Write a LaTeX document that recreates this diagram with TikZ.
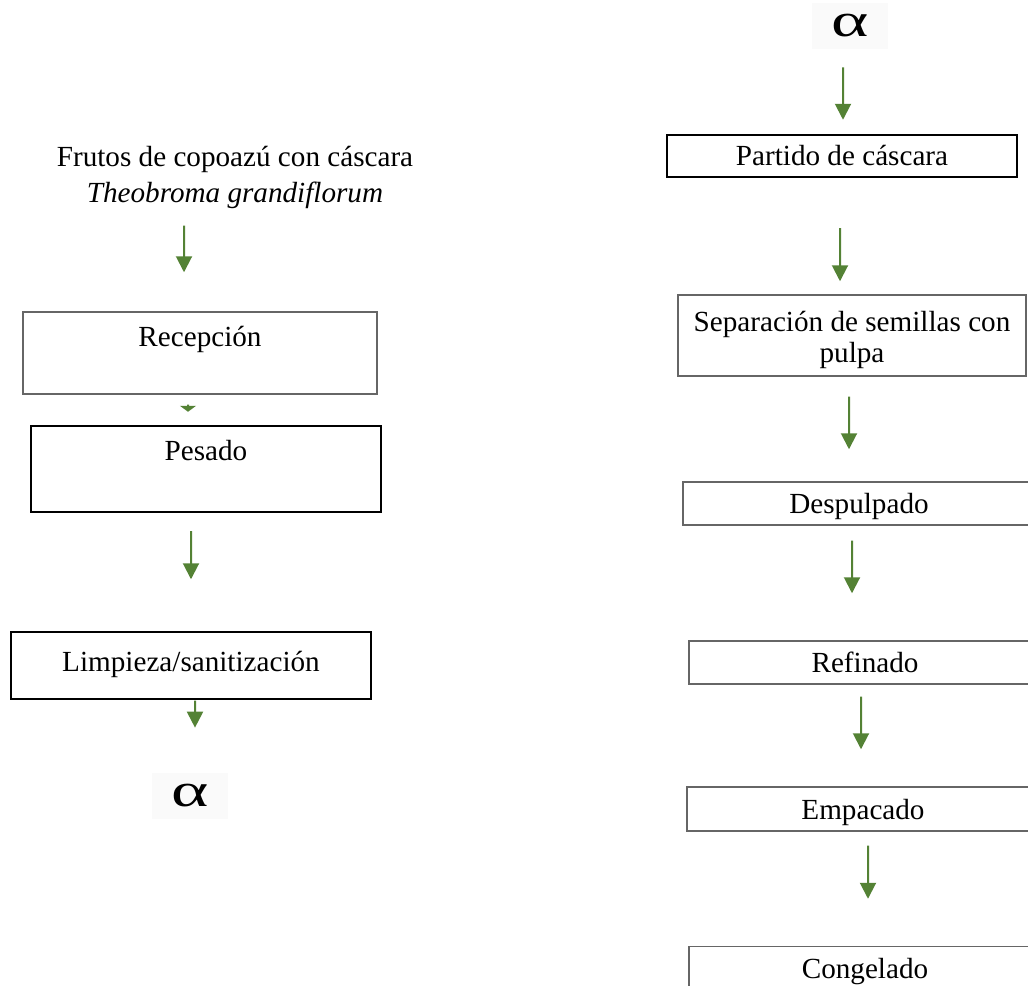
\documentclass[tikz,border=0pt]{standalone}
\usepackage{fontspec}
\setmainfont{Liberation Serif}
\usepackage{graphicx}
\usepackage{tikz}
\usetikzlibrary{positioning,arrows.meta}
\definecolor{verde}{HTML}{548235}
\definecolor{borde}{HTML}{666666}
\tikzset{
    paso/.style={rectangle, draw=borde, line width=0.03cm, align=center, inner sep=0pt, text height=0.4cm, text depth=0cm, font=\fontsize{16.6}{17.5}\selectfont},
    pasodoble/.style={rectangle, draw=borde, line width=0.03cm, align=center, inner sep=0pt, font=\fontsize{16.6}{17.5}\selectfont},
    pasofuerte/.style={paso, draw=black, line width=0.05cm},
    titulo/.style={align=center, inner sep=0pt, font=\fontsize{16.6}{20.5}\selectfont},
    alfa/.style={rectangle, fill=black!2, minimum width=1.52cm, minimum height=0.92cm, inner sep=0pt, font=\fontsize{27}{27}\selectfont},
    flecha/.style={-{Triangle[length=0.32cm, width=0.32cm]}, line width=0.04cm, color=verde},
    flechita/.style={-{Triangle[length=0.12cm, width=0.32cm]}, line width=0.04cm, color=verde}
}

\begin{document}
\begin{tikzpicture}[x=0.02cm, y=-0.02cm]

\useasboundingbox (0,0) rectangle (1028,986);
\clip (0,0) rectangle (1028,986);

% columna izquierda
\node[titulo] (frutos) at (235,177) {Frutos de copoazú con cáscara\\\textit{Theobroma grandiflorum}};

\node[paso, minimum width=7.08cm, text height=0.68cm, text depth=0.96cm] (recepcion) at (200,353) {Recepción};

\node[pasofuerte, minimum width=7cm, text height=0.68cm, text depth=1.04cm] (pesado) at (206,469) {Pesado};

\node[paso, draw=black, minimum width=7.2cm, minimum height=1.34cm, text depth=0.15cm] (limpieza) at (191,665.5) {Limpieza/sanitización};

\node[alfa] (alfaA) at (190,796) {\scalebox{1.5}[1]{α}};

% columna derecha
\node[alfa] (alfaB) at (850,26) {\scalebox{1.5}[1]{α}};

\node[pasofuerte, minimum width=7cm, minimum height=0.84cm] (partido) at (842,156) {Partido de cáscara};

\node[pasodoble, minimum width=6.96cm, minimum height=1.62cm] (separacion) at (852,335.5) {\rule{0pt}{17pt}Separación de semillas con\\pulpa};

\node[paso, minimum width=7.04cm, minimum height=0.86cm] (despulpado) at (859,503.5) {Despulpado};

\node[paso, minimum width=7.04cm, minimum height=0.86cm] (refinado) at (865,662.5) {Refinado};

\node[paso, minimum width=7.04cm, minimum height=0.88cm] (empacado) at (863,809) {Empacado};

\node[paso, minimum width=7.04cm, minimum height=0.86cm] (congelado) at (865,968) {Congelado};

\draw[flecha, shorten <=0.34cm, shorten >=0.78cm] ([xshift=-1.02cm]frutos.south) -- ([xshift=-0.32cm]recepcion.north);
\draw[flechita, shorten <=0.2cm, shorten >=0.26cm] ([xshift=-0.24cm]recepcion.south) -- ([xshift=-0.36cm]pesado.north);
\draw[flecha, shorten <=0.36cm, shorten >=1.04cm] ([xshift=-0.3cm]pesado.south) -- (limpieza.north);
\draw[flecha, shorten <=0.02cm, shorten >=0.9cm] ([xshift=0.08cm]limpieza.south) -- ([xshift=0.1cm]alfaA.north);

\draw[flecha, shorten <=0.36cm, shorten >=0.28cm] ([xshift=-0.14cm]alfaB.south) -- ([xshift=0.02cm]partido.north);
\draw[flecha, shorten <=1cm, shorten >=0.26cm] ([xshift=-0.04cm]partido.south) -- ([xshift=-0.24cm]separacion.north);
\draw[flecha, shorten <=0.4cm, shorten >=0.64cm] ([xshift=-0.06cm]separacion.south) -- ([xshift=-0.2cm]despulpado.north);
\draw[flecha, shorten <=0.3cm, shorten >=0.94cm] ([xshift=-0.14cm]despulpado.south) -- ([xshift=-0.26cm]refinado.north);
\draw[flecha, shorten <=0.24cm, shorten >=0.74cm] ([xshift=-0.08cm]refinado.south) -- ([xshift=-0.04cm]empacado.north);
\draw[flecha, shorten <=0.28cm, shorten >=0.94cm] ([xshift=0.1cm]empacado.south) -- ([xshift=0.06cm]congelado.north);

\end{tikzpicture}
\end{document}
